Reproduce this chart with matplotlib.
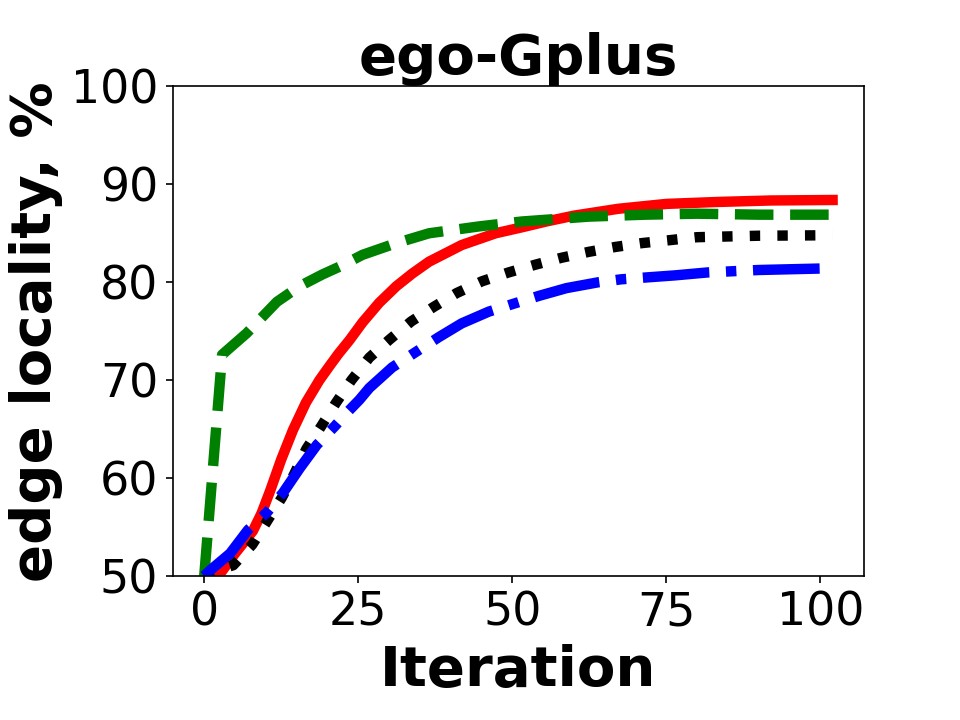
import matplotlib
matplotlib.use("Agg")
import matplotlib.pyplot as plt

# red solid
red_x = [0, 2.3, 5, 7.9, 9.3, 10.7, 12.5, 14.4, 16.5, 18.7, 20.4, 21.8, 23.6,
         25.7, 28.4, 31.2, 33.8, 36.5, 41.8, 47.3, 51.5, 55.5, 60, 67.2, 75,
         83.4, 92, 102]
red_y = [48.0, 50.0, 52.3, 54.6, 56.4, 58.7, 61.9, 64.9, 67.7, 70.0, 71.5,
         72.7, 74.1, 75.9, 77.9, 79.6, 80.9, 82.1, 83.8, 85.0, 85.6, 86.2,
         86.8, 87.5, 88.0, 88.2, 88.35, 88.4]

# green dashed
green_x = [0, 2.9, 6.9, 11.8, 15.5, 19.2, 22, 25.7, 31.2, 36.5, 44.6, 51.5,
           62.4, 71.6, 80, 90, 102]
green_y = [50.0, 72.6, 74.8, 78.0, 79.6, 80.8, 81.6, 82.8, 84.0, 85.0, 85.7,
           86.2, 86.7, 86.9, 87.0, 86.9, 86.9]

# black dotted
black_x = [0, 0.6, 4.7, 7.8, 10.1, 12.6, 14.6, 16.6, 19, 21.4, 23.9, 26.8, 30,
           33.6, 37.3, 41, 45.1, 49.4, 53.8, 58, 62.4, 66.7, 71.1, 75.6, 80,
           90, 102]
black_y = [50.0, 50.3, 51.1, 53.2, 55.5, 58.0, 60.4, 63.0, 65.3, 67.7, 70.0,
           72.3, 74.1, 76.0, 77.5, 78.9, 80.1, 81.0, 81.8, 82.5, 83.1, 83.6,
           84.0, 84.3, 84.6, 84.75, 84.8]

# blue dash-dot
blue_x = [0, 1, 4.2, 7.1, 10.2, 12.8, 15.5, 18.3, 21.2, 23.2, 25.2, 26.8, 30.5,
          34.4, 38.1, 41.8, 46.2, 50.2, 54.3, 58.8, 64, 67.7, 72, 76.4, 81.7,
          90, 100]
blue_y = [50.0, 50.6, 52.3, 54.7, 56.5, 58.5, 61.0, 63.4, 65.3, 66.7, 68.0,
          69.2, 71.3, 72.9, 74.4, 75.8, 77.0, 77.8, 78.6, 79.4, 80.0, 80.3,
          80.5, 80.7, 81.0, 81.25, 81.4]

fig = plt.figure(figsize=(6.4, 4.8), dpi=150)
ax = fig.add_subplot(111)
fig.subplots_adjust(left=0.18, right=0.9, bottom=0.2, top=0.88)

lw = 5
ax.plot(red_x, red_y, color="red", linestyle="-", linewidth=lw)
ax.plot(green_x, green_y, color="green", linestyle="--", linewidth=lw)
ax.plot(black_x, black_y, color="black", linestyle=":", linewidth=lw)
ax.plot(blue_x, blue_y, color="blue", linestyle="-.", linewidth=lw)

ax.set_ylim(50, 100)
ax.set_xticks([0, 25, 50, 75, 100])
ax.set_yticks([50, 60, 70, 80, 90, 100])
ax.tick_params(labelsize=22)

ax.set_title("ego-Gplus", fontsize=27, fontweight="bold")
ax.set_xlabel("Iteration", fontsize=27, fontweight="bold")
ax.set_ylabel("edge locality, %", fontsize=27, fontweight="bold")

fig.savefig("out.png", dpi=150)
